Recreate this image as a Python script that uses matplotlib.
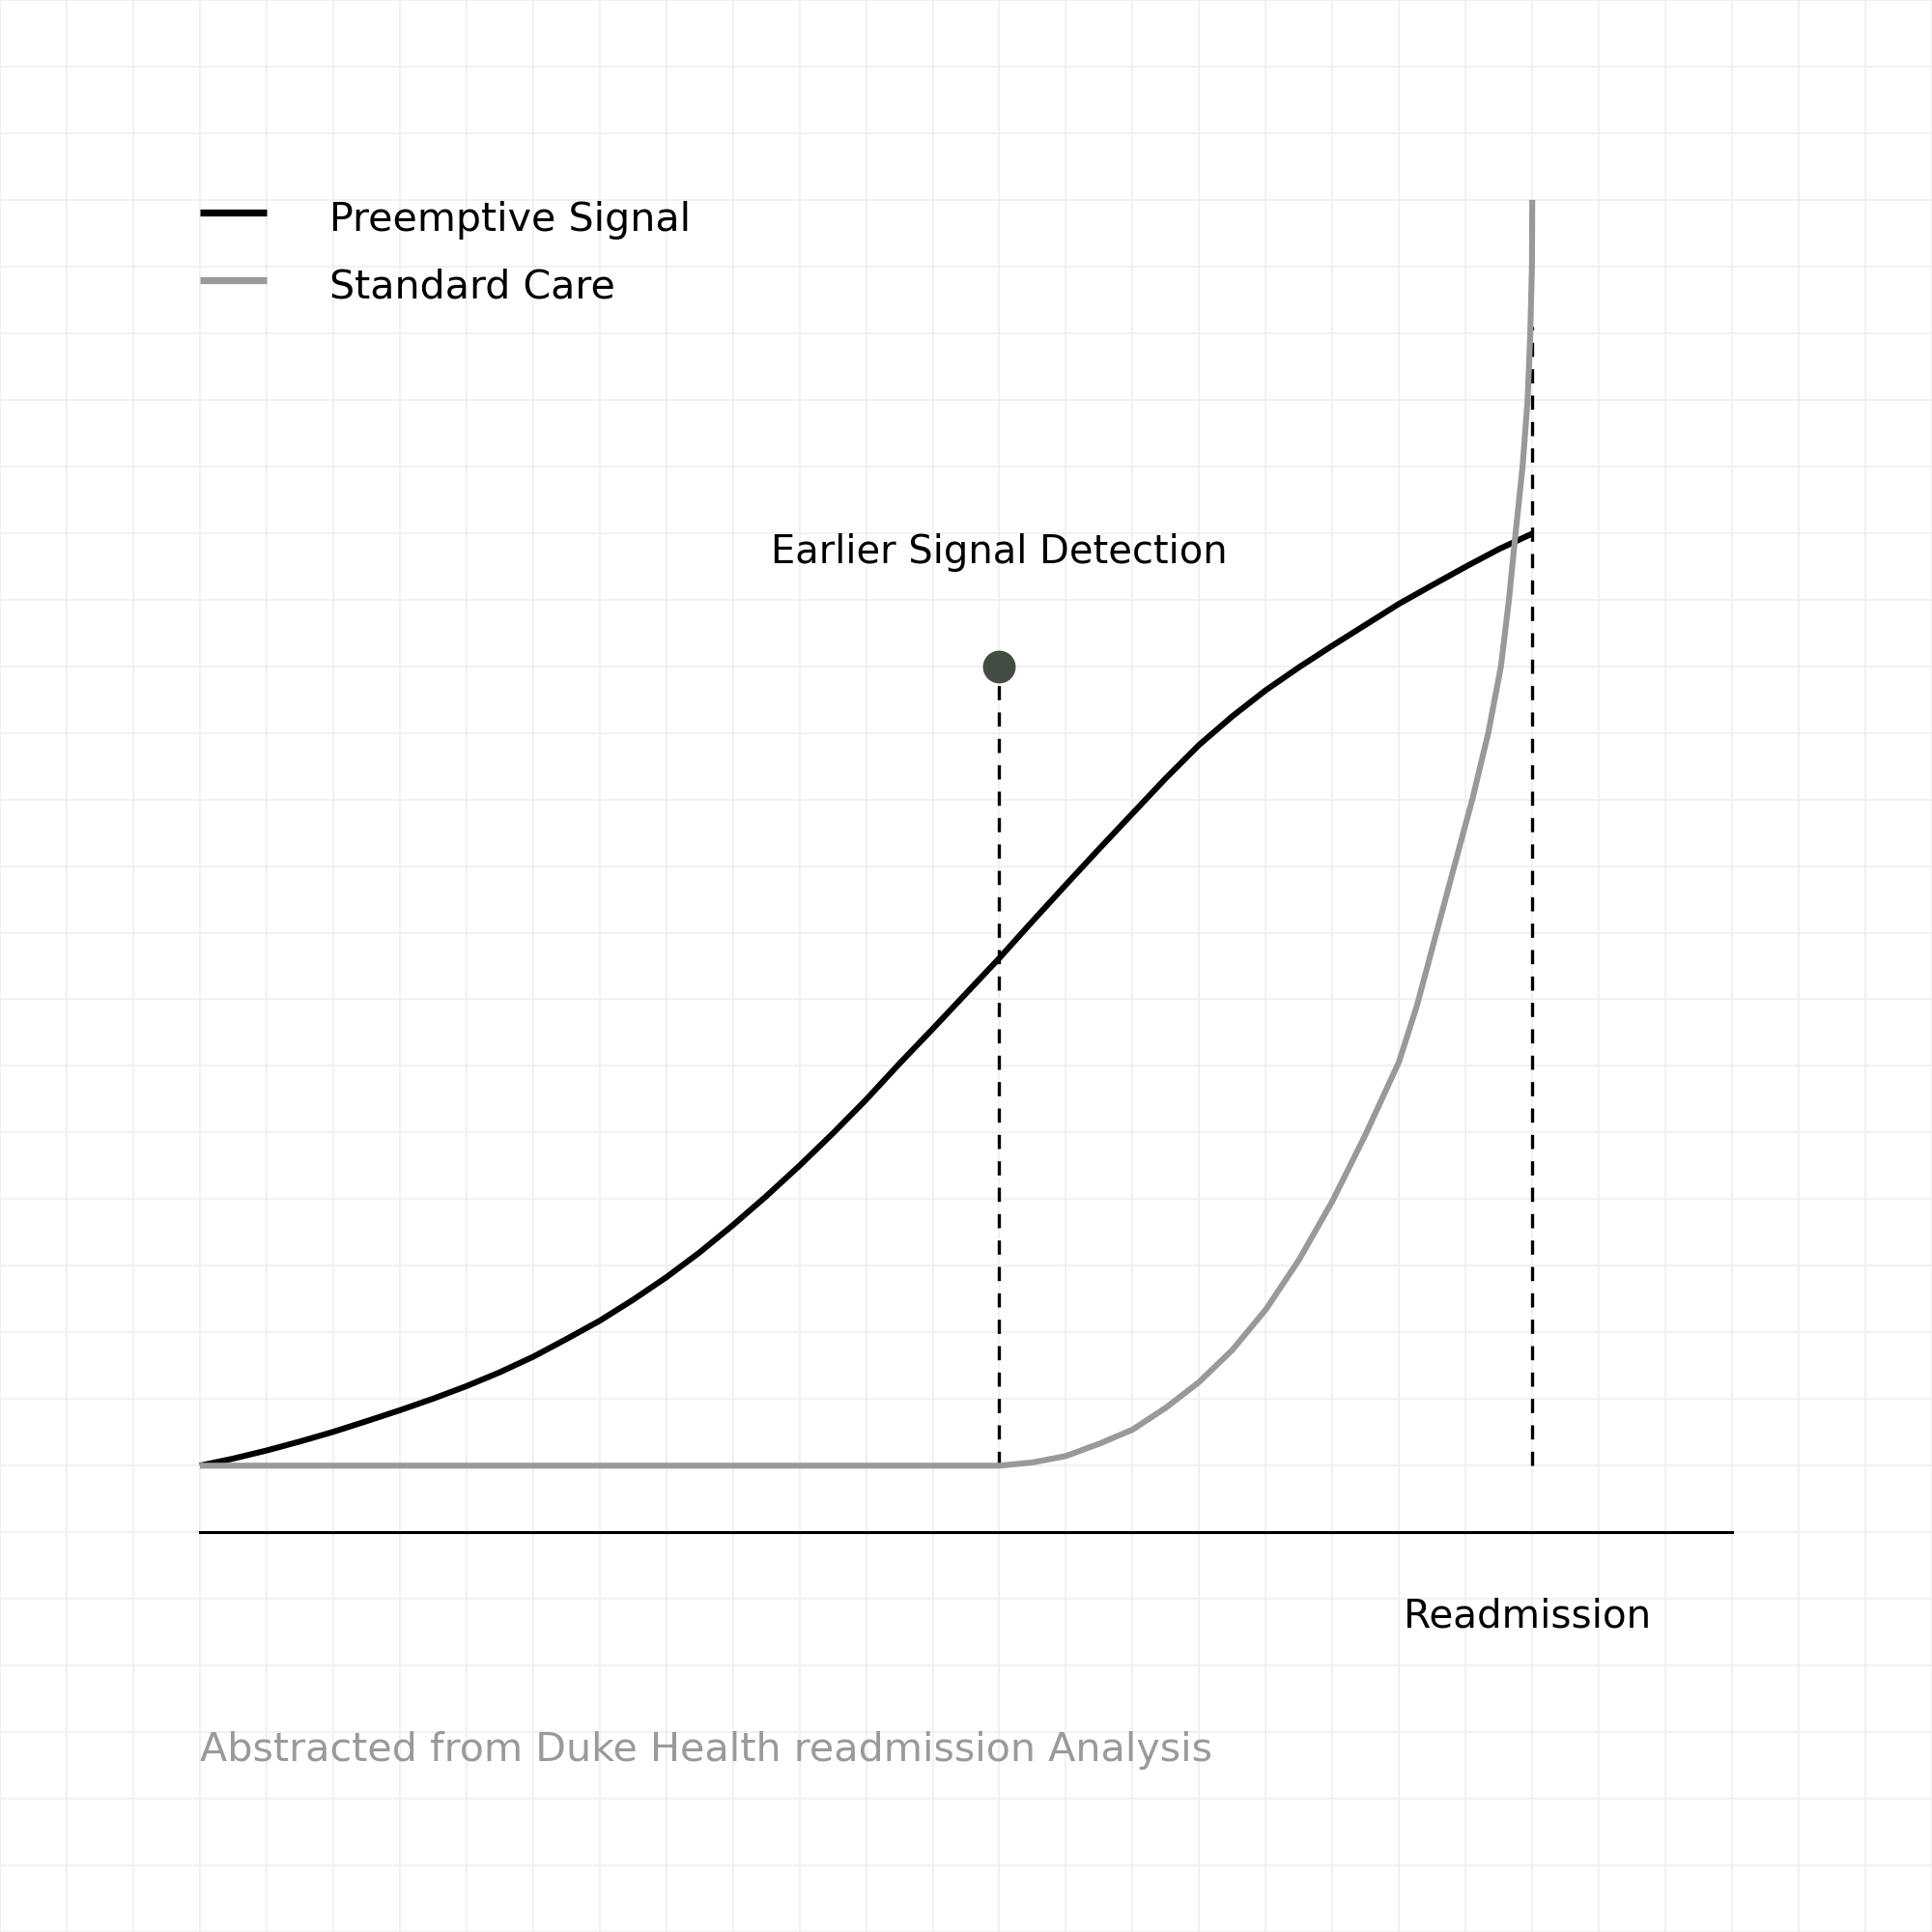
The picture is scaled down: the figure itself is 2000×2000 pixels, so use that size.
import matplotlib
matplotlib.use("Agg")
import matplotlib.pyplot as plt
import numpy as np

plt.rcParams['font.family'] = ['DejaVu Sans']

# --- data (x: time units, y: risk signal units) ---
preemptive_x = [0, 0.5, 1, 1.5, 2, 2.5, 3, 3.5, 4, 4.5, 5, 5.5, 6, 6.5, 7, 7.5,
                8, 8.5, 9, 9.5, 10, 10.5, 11, 11.5, 12, 12.5, 13, 13.5, 14, 14.5,
                15, 15.5, 16, 16.5, 17, 17.5, 18, 18.5, 19, 19.5, 20]
preemptive_y = [0.0, 0.106, 0.227, 0.362, 0.507, 0.667, 0.831, 1.005, 1.193, 1.401,
                1.633, 1.899, 2.174, 2.488, 2.826, 3.2, 3.609, 4.043, 4.502, 4.986,
                5.493, 6.034, 6.556, 7.087, 7.618, 8.174, 8.72, 9.26, 9.79, 10.32,
                10.82, 11.25, 11.64, 11.985, 12.309, 12.623, 12.937, 13.217,
                13.493, 13.758, 13.99]

standard_x = [0, 12, 12.5, 13, 13.5, 14, 14.5, 15, 15.5, 16, 16.5, 17, 17.5, 18,
              18.27, 18.5, 18.83, 19.1, 19.34, 19.53, 19.65, 19.75, 19.855, 19.93,
              19.97, 19.995, 20]
standard_y = [0, 0, 0.048, 0.145, 0.329, 0.541, 0.87, 1.256, 1.739, 2.343, 3.092,
              3.971, 4.976, 6.063, 6.91, 7.77, 9.0, 10.0, 11.0, 12.0, 13.0, 14.0,
              15.0, 16.0, 17.0, 18.0, 19.0]

signal_x = 12
signal_y = 12
readmission_x = 20
readmission_top = 17.1
axis_start, axis_end = 0, 23

series_labels = ["Preemptive Signal", "Standard Care"]
series_colors = ["#000000", "#999999"]
annotation_text = "Earlier Signal Detection"
axis_label = "Readmission"
footer_text = "Abstracted from Duke Health readmission Analysis"

fig = plt.figure(figsize=(10, 10), dpi=200)
ax = fig.add_axes([0, 0, 1, 1])
ax.set_xlim(-3, 26)
ax.set_ylim(-7, 22)

# background grid
ax.set_xticks(np.arange(-3, 27, 1))
ax.set_yticks(np.arange(-7, 23, 1))
ax.grid(True, color="#efefef", linewidth=0.6)
ax.tick_params(length=0, labelbottom=False, labelleft=False)
for s in ax.spines.values():
    s.set_visible(False)
ax.set_axisbelow(True)

# curves
ax.plot(preemptive_x, preemptive_y, color=series_colors[0], linewidth=2.2,
        solid_capstyle='butt', solid_joinstyle='round', zorder=3)
ax.plot(standard_x, standard_y, color=series_colors[1], linewidth=2.2,
        solid_capstyle='butt', solid_joinstyle='round', zorder=4)

# dashed guide lines
ax.plot([signal_x, signal_x], [0, signal_y], color="black", linewidth=1.2,
        dashes=(4.4, 3.8), zorder=2)
ax.plot([readmission_x, readmission_x], [0, readmission_top], color="black",
        linewidth=1.2, dashes=(4.4, 3.8), zorder=2)

# signal dot
ax.plot([signal_x], [signal_y], marker='o', markersize=12.2, color="#434c43",
        markeredgewidth=0, zorder=5)

# x axis line
ax.plot([axis_start, axis_end], [-1, -1], color="black", linewidth=1.1, zorder=2)

# legend (manual)
legend_rows = [18.81, 17.8]
legend_baselines = [18.53, 17.53]
for lbl, col, yy, yb in zip(series_labels, series_colors, legend_rows, legend_baselines):
    ax.plot([0, 1], [yy, yy], color=col, linewidth=2.6, solid_capstyle='butt')
    ax.text(1.95, yb, lbl, fontsize=14.8, va='baseline', ha='left', color="#000000")

# annotation
ax.text(signal_x, 13.55, annotation_text, fontsize=14.4, ha='center', va='baseline',
        color="#000000")

# axis label
ax.text(19.93, -2.43, axis_label, fontsize=14.6, ha='center', va='baseline',
        color="#000000")

# footer
ax.text(0, -4.43, footer_text, fontsize=14.85, ha='left', va='baseline', color="#9a9a9a")

fig.savefig("out.png", dpi=200, facecolor="white")
